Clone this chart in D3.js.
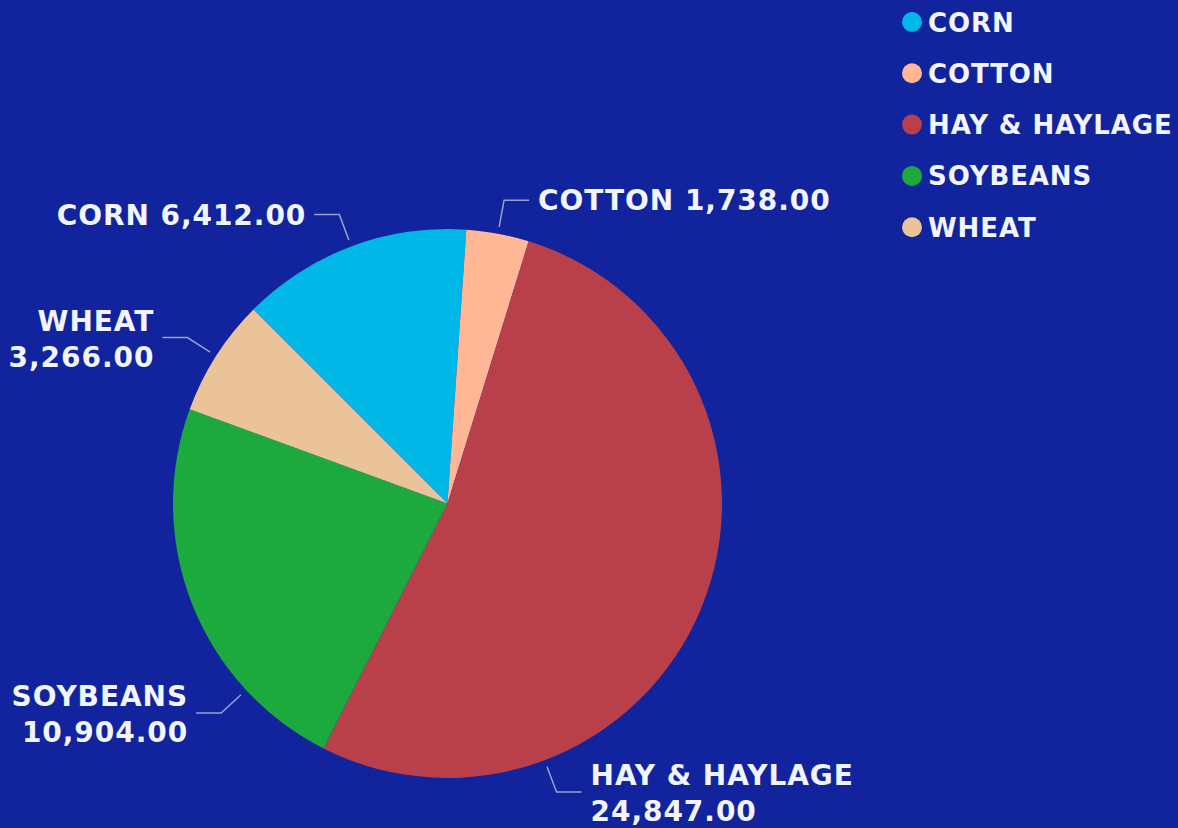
<!DOCTYPE html>
<html>
<head>
<meta charset="utf-8">
<script src="https://cdn.jsdelivr.net/npm/d3@7"></script>
<style>
  html, body { margin: 0; padding: 0; background: #11239D; }
  svg { display: block; }
  text { font-family: "DejaVu Sans", Verdana, sans-serif; font-weight: bold; fill: #F2F5FF; }
</style>
</head>
<body>
<svg id="chart" width="1178" height="828"></svg>
<script>
// ---- data ----
const categories = ["CORN", "COTTON", "HAY & HAYLAGE", "SOYBEANS", "WHEAT"];
const values = [6412, 1738, 24847, 10904, 3266];
const colors = ["#00B8E8", "#FFB796", "#B9404A", "#1CAA3E", "#EBC398"];

// ---- layout ----
const W = 1178, H = 828;
const cx = 447.5, cy = 503.5, R = 274.5;
const svg = d3.select("#chart");
svg.append("rect").attr("width", W).attr("height", H).attr("fill", "#11239D");

const data = categories.map((c, i) => ({ name: c, value: values[i], color: colors[i] }));

const pie = d3.pie().sort(null).value(d => d.value)
  .startAngle(-Math.PI / 4).endAngle(Math.PI * 7 / 4);
const arcs = pie(data);
const arc = d3.arc().innerRadius(0).outerRadius(R);

const g = svg.append("g").attr("transform", `translate(${cx},${cy})`);
g.selectAll("path.slice").data(arcs).enter().append("path")
  .attr("class", "slice")
  .attr("d", arc)
  .attr("fill", d => d.data.color);

// label placement tweaks (layout only): some labels are moved off the slice midpoint
const deg = Math.PI / 180;
const labelAngleOverride = { "HAY & HAYLAGE": 159.3 * deg, "SOYBEANS": 227.2 * deg };
const wrapLabels = { "HAY & HAYLAGE": true, "SOYBEANS": true, "WHEAT": true };
const fmt = d3.format(",.2f");
const r1 = R + 7, r2 = R + 34, hLen = 25, gap = 9, fs = 28, ls = 0.95;

arcs.forEach(a => {
  const name = a.data.name;
  const ang = labelAngleOverride[name] !== undefined ? labelAngleOverride[name] : (a.startAngle + a.endAngle) / 2;
  const p1 = [r1 * Math.sin(ang), -r1 * Math.cos(ang)];
  const p2 = [r2 * Math.sin(ang), -r2 * Math.cos(ang)];
  const right = Math.sin(ang) >= 0;
  const p3 = [p2[0] + (right ? hLen : -hLen), p2[1]];
  g.append("polyline")
    .attr("points", [p1, p2, p3].map(p => p.join(",")).join(" "))
    .attr("fill", "none")
    .attr("stroke", "#98A2CC")
    .attr("stroke-width", 1.5);
  const tx = p3[0] + (right ? gap : -gap + ls);
  const t = g.append("text")
    .attr("x", tx)
    .attr("text-anchor", right ? "start" : "end")
    .style("font-size", fs + "px")
    .style("letter-spacing", ls + "px");
  if (wrapLabels[name]) {
    t.append("tspan").attr("x", tx).attr("y", p2[1] - 17 + 10).text(name);
    t.append("tspan").attr("x", tx).attr("y", p2[1] + 19 + 10).text(fmt(a.data.value));
  } else {
    t.attr("y", p2[1] + 10).text(name + " " + fmt(a.data.value));
  }
});

// ---- legend ----
const legend = svg.append("g").attr("transform", "translate(912,22)");
const rows = legend.selectAll("g").data(data).enter().append("g")
  .attr("transform", (d, i) => `translate(0,${i * 51.3})`);
rows.append("circle").attr("r", 10).attr("fill", d => d.color);
rows.append("text").attr("x", 16).attr("y", 9.5)
  .style("font-size", "26px").style("letter-spacing", "0.9px").text(d => d.name);
</script>
</body>
</html>
